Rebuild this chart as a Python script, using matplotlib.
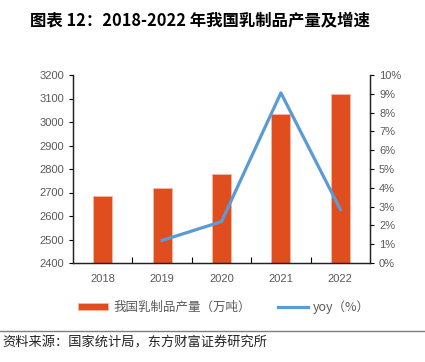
import matplotlib.pyplot as plt
import numpy as np
from matplotlib.ticker import FuncFormatter
from matplotlib.patches import Patch
from matplotlib.lines import Line2D

plt.rcParams['font.family'] = ['Noto Sans CJK SC', 'DejaVu Sans']

# data
years = ['2018', '2019', '2020', '2021', '2022']
output = [2687, 2719, 2780, 3032, 3118]      # 万吨
yoy = [np.nan, 1.2, 2.2, 9.05, 2.85]           # %

bar_color = '#E04E1F'
line_color = '#5B9BD5'
tick_color = '#595959'

fig = plt.figure(figsize=(4.25, 3.62), dpi=100)
ax = fig.add_axes([73 / 425, 1 - 263 / 362, 297 / 425, 188 / 362])
ax2 = ax.twinx()

x = np.arange(len(years))
ax.bar(x, output, 0.32, color=bar_color, edgecolor='#F4B9A4', linewidth=0.6, zorder=2)
ax2.plot(x, yoy, color=line_color, linewidth=2.3, zorder=3)

ax.set_xlim(-0.5, 4.5)
ax.set_ylim(2400, 3200)
ax.set_yticks(np.arange(2400, 3201, 100))
ax2.set_ylim(0, 10)
ax2.set_yticks(np.arange(0, 11, 1))
ax2.yaxis.set_major_formatter(FuncFormatter(lambda v, p: f'{v:.0f}%'))

# year labels centered, tick marks between categories
ax.set_xticks(x)
ax.set_xticklabels(years)
ax.set_xticks(np.arange(0.5, 4.5, 1), minor=True)
ax.tick_params(axis='x', which='major', length=0, pad=8, labelsize=8, labelcolor=tick_color)
ax.tick_params(axis='x', which='minor', direction='in', length=4, width=0.8)
ax.tick_params(axis='y', direction='out', length=3, width=0.8, labelsize=8, labelcolor=tick_color)
ax2.tick_params(axis='y', direction='out', length=3, width=0.8, labelsize=8, labelcolor=tick_color)
for lab in ax.get_xticklabels() + ax.get_yticklabels() + ax2.get_yticklabels():
    lab.set_fontfamily('Liberation Sans')

ax2.set_zorder(ax.get_zorder() + 1)
ax2.patch.set_visible(False)
for a in (ax, ax2):
    a.spines['top'].set_visible(False)
    for s in ('left', 'right', 'bottom'):
        a.spines[s].set_linewidth(0.9)
        a.spines[s].set_color('#222222')

# title
fig.text(30 / 425, 1 - 20 / 362, '图表 12：2018-2022 年我国乳制品产量及增速',
         fontsize=11.8, fontweight='bold', va='center', ha='left')

# legend
handles = [Patch(facecolor=bar_color, edgecolor='#F4B9A4', linewidth=0.6),
           Line2D([0], [0], color=line_color, linewidth=2.3)]
fig.legend(handles, ['我国乳制品产量（万吨）', 'yoy（%）'],
           loc='center', bbox_to_anchor=(224 / 425, 1 - 307 / 362), ncol=2, frameon=False,
           fontsize=9, labelcolor=tick_color, handlelength=2.4, handleheight=0.45,
           columnspacing=2.2, handletextpad=0.4)

# source line
fig.add_artist(Line2D([0, 1], [1 - 331 / 362, 1 - 331 / 362], color='#7f7f7f', linewidth=1.0))
fig.text(2 / 425, 1 - 343 / 362, '资料来源：国家统计局，东方财富证券研究所',
         fontsize=9.5, va='center', ha='left', color='#222222')

fig.savefig('out.png', dpi=100)
